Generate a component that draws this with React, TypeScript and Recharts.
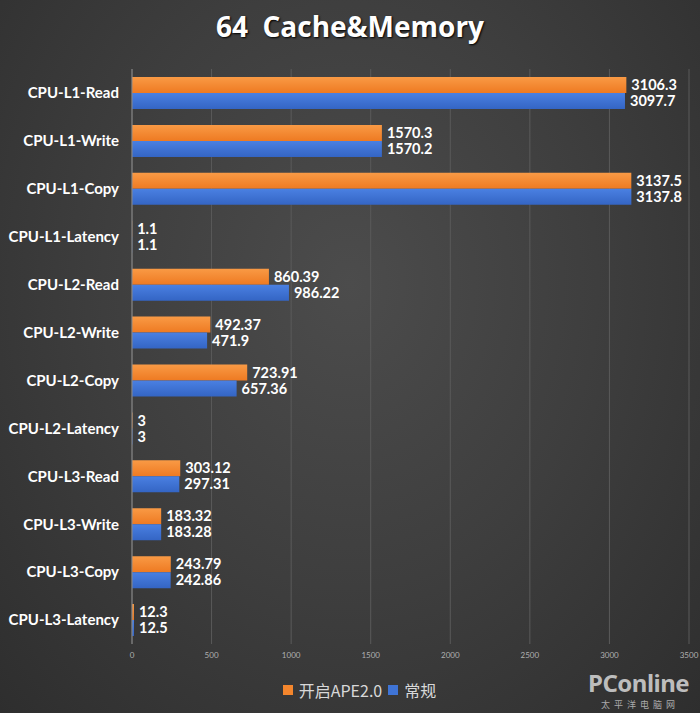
import React from "react";
import { BarChart, Bar, XAxis, YAxis, CartesianGrid, Legend, LabelList } from "recharts";

const categories = [
  "CPU-L1-Read", "CPU-L1-Write", "CPU-L1-Copy", "CPU-L1-Latency",
  "CPU-L2-Read", "CPU-L2-Write", "CPU-L2-Copy", "CPU-L2-Latency",
  "CPU-L3-Read", "CPU-L3-Write", "CPU-L3-Copy", "CPU-L3-Latency",
];
const apeValues = [3106.3, 1570.3, 3137.5, 1.1, 860.39, 492.37, 723.91, 3, 303.12, 183.32, 243.79, 12.3];
const normalValues = [3097.7, 1570.2, 3137.8, 1.1, 986.22, 471.9, 657.36, 3, 297.31, 183.28, 242.86, 12.5];
const xTicks = [0, 500, 1000, 1500, 2000, 2500, 3000, 3500];
const seriesNames = ["开启APE2.0", "常规"];

const data = categories.map((c, i) => ({ name: c, ape: apeValues[i], normal: normalValues[i] }));

const ORANGE = "#f4862d";
const BLUE = "#3f74d6";
const FONT = "Lato, 'Open Sans', sans-serif";

const LegendContent = () => (
  <div style={{ display: "flex", justifyContent: "center", alignItems: "center", fontFamily: "'Noto Sans CJK SC', sans-serif", fontSize: 16, lineHeight: "20px", color: "#d8d8d8", paddingLeft: 30 }}>
    <span style={{ width: 10, height: 10, background: ORANGE, display: "inline-block", marginRight: 6 }} />
    <span style={{ marginRight: 6 }}>{seriesNames[0]}</span>
    <span style={{ width: 10, height: 10, background: BLUE, display: "inline-block", marginRight: 6 }} />
    <span>{seriesNames[1]}</span>
  </div>
);

export default function App() {
  return (
    <div style={{ position: "absolute", left: 0, top: 0, width: 700, height: 713, background: "radial-gradient(ellipse at 50% 40%, #4c4c4c 0%, #3e3e3e 50%, #2e2e2e 100%)", overflow: "hidden" }}>
      <div style={{ position: "absolute", top: 7, left: 0, width: 700, textAlign: "center", color: "#ffffff", fontFamily: "'Open Sans', sans-serif", fontWeight: 700, fontSize: 28, textShadow: "1px 1px 2px #000", whiteSpace: "pre" }}>
        {"64  Cache&Memory"}
      </div>
      <BarChart
        width={700}
        height={713}
        data={data}
        layout="vertical"
        margin={{ top: 69, right: 11, bottom: 2, left: 0 }}
        barCategoryGap="16.7%"
        barGap={0}
      >
        <defs>
          <linearGradient id="gOrange" x1="0" y1="0" x2="0" y2="1">
            <stop offset="0%" stopColor="#f99a45" />
            <stop offset="100%" stopColor="#ee7a22" />
          </linearGradient>
          <linearGradient id="gBlue" x1="0" y1="0" x2="0" y2="1">
            <stop offset="0%" stopColor="#4a80e2" />
            <stop offset="100%" stopColor="#3465c4" />
          </linearGradient>
        </defs>
        <CartesianGrid horizontal={false} stroke="#5a5a5a" strokeWidth={1} />
        <XAxis
          type="number"
          domain={[0, 3500]}
          ticks={xTicks}
          axisLine={false}
          tickLine={false}
          tick={{ fill: "#b0b0b0", fontSize: 8, fontFamily: FONT }}
          height={22}
        />
        <YAxis
          type="category"
          dataKey="name"
          width={132}
          axisLine={{ stroke: "#8a8a8a" }}
          tickLine={false}
          tick={{ fill: "#ffffff", fontSize: 15, fontWeight: 700, fontFamily: FONT }}
          tickMargin={7}
        />
        <Legend content={<LegendContent />} verticalAlign="bottom" height={45} wrapperStyle={{ top: 680, bottom: "auto" }} />
        <Bar dataKey="ape" name={seriesNames[0]} fill="url(#gOrange)" isAnimationActive={false}>
          <LabelList dataKey="ape" position="right" offset={5} fill="#ffffff" fontSize={14.5} fontWeight={700} fontFamily={FONT} />
        </Bar>
        <Bar dataKey="normal" name={seriesNames[1]} fill="url(#gBlue)" isAnimationActive={false}>
          <LabelList dataKey="normal" position="right" offset={5} fill="#ffffff" fontSize={14.5} fontWeight={700} fontFamily={FONT} />
        </Bar>
      </BarChart>
      <div style={{ position: "absolute", left: 588, top: 671, color: "#bdbdbd", fontFamily: "'Noto Sans', sans-serif", fontWeight: 700, fontSize: 24, letterSpacing: -0.5, lineHeight: "24px" }}>
        PConline
      </div>
      <div style={{ position: "absolute", left: 601, top: 700, color: "#aaaaaa", fontFamily: "'Noto Sans CJK SC', sans-serif", fontSize: 9, letterSpacing: 4, lineHeight: "10px" }}>
        太平洋电脑网
      </div>
    </div>
  );
}
